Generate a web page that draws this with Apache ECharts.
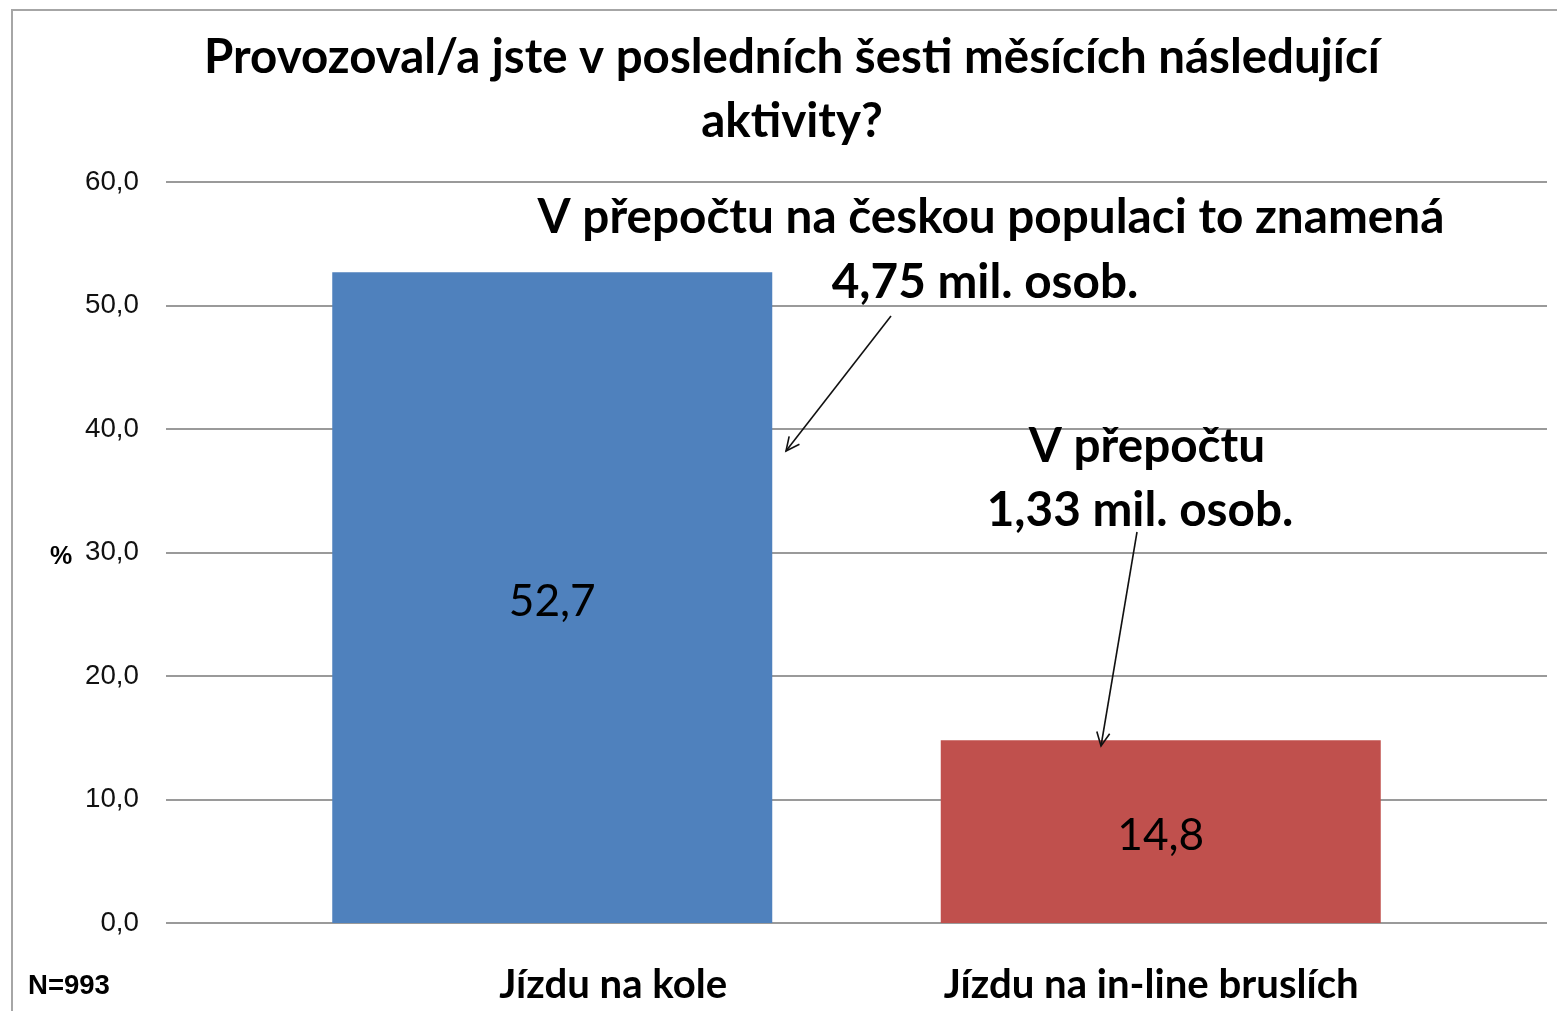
<!DOCTYPE html>
<html>
<head>
<meta charset="utf-8">
<script src="https://cdn.jsdelivr.net/npm/echarts@6/dist/echarts.min.js"></script>
<style>
html,body{margin:0;padding:0;background:#fff;}
#chart{width:1557px;height:1011px;}
</style>
</head>
<body>
<div id="chart"></div>
<script>
// ---- data ----
const categories = ['Jízdu na kole', 'Jízdu na in-line bruslích'];
const values = [52.7, 14.8];
const barColors = ['#4F81BD', '#C0504D'];
const yMin = 0, yMax = 60, yInterval = 10;
const titleLines = ['Provozoval/a jste v posledních šesti měsících následující', 'aktivity?'];
const note1Lines = ['V přepočtu na českou populaci to znamená', '4,75 mil. osob.'];
const note2Lines = ['V přepočtu', '1,33 mil. osob.'];
const sampleNote = 'N=993';
const yAxisName = '%';

// ---- helpers ----
const cv = document.createElement('canvas').getContext('2d');
function fit(text, weight, family, target) {
  cv.font = weight + ' 100px ' + family;
  return 100 * target / cv.measureText(text).width;
}
const fmt = v => v.toFixed(1).replace('.', ',');

const CAL = 'Lato';
const ARI = '"Liberation Sans"';
const titleSize = fit(titleLines[0], 'bold', CAL, 1176);
const noteSize = fit(note1Lines[0], 'bold', CAL, 907);
const catSize = fit(categories[1], 'bold', CAL, 415);
const ySize = fit('60,0', 'normal', ARI, 54);
const valSize = fit('52,7', 'normal', CAL, 87);
const nSize = fit(sampleNote, 'bold', ARI, 82);
const pctSize = 25;

function arrow(x1, y1, x2, y2) {
  const dx = x1 - x2, dy = y1 - y2, L = Math.hypot(dx, dy);
  const ux = dx / L, uy = dy / L, h = 15, a = Math.PI / 7;
  const rot = (t) => [x2 + h * (ux * Math.cos(t) - uy * Math.sin(t)), y2 + h * (ux * Math.sin(t) + uy * Math.cos(t))];
  return [
    {type: 'line', shape: {x1, y1, x2, y2}, style: {stroke: '#111', lineWidth: 1.6}, z: 50},
    {type: 'polyline', shape: {points: [rot(a), [x2, y2], rot(-a)]}, style: {stroke: '#111', lineWidth: 1.6, fill: null}, z: 50}
  ];
}

function txt(text, x, y, size, weight, family, align) {
  return {type: 'text', x, y, z: 40, style: {text, fontSize: size, fontWeight: weight, fontFamily: family, fill: '#000', align: align || 'center', verticalAlign: 'middle'}};
}

const chart = echarts.init(document.getElementById('chart'), null, {renderer: 'canvas'});
chart.setOption({
  backgroundColor: '#fff',
  animation: false,
  title: {
    text: titleLines.join('\n'),
    left: 792, top: 26, textAlign: 'center', padding: 0,
    textStyle: {fontFamily: CAL, fontWeight: 'bold', fontSize: titleSize, lineHeight: 64, color: '#000'}
  },
  grid: [
    {left: 166, right: 10, top: 182, bottom: 88},
    {left: 248, right: 92, top: 182, bottom: 88}
  ],
  xAxis: [
    {gridIndex: 0, type: 'category', data: categories, show: false},
    {gridIndex: 1, type: 'category', data: categories,
     axisLine: {show: false}, axisTick: {show: false},
     axisLabel: {
       margin: 62, verticalAlign: 'middle',
       formatter: (v, i) => (i === 0 ? '{a|' : '{b|') + v + '}',
       rich: {
         a: {fontFamily: CAL, fontWeight: 'bold', fontSize: catSize, color: '#000', padding: [0, 0, 0, 122]},
         b: {fontFamily: CAL, fontWeight: 'bold', fontSize: catSize, color: '#000', padding: [0, 19, 0, 0]}
       }
     }}
  ],
  yAxis: [
    {gridIndex: 0, type: 'value', min: yMin, max: yMax, interval: yInterval,
     axisLine: {show: false}, axisTick: {show: false},
     axisLabel: {margin: 27, formatter: fmt, fontFamily: ARI, fontSize: ySize, color: '#111'},
     splitLine: {show: true, lineStyle: {color: '#9a9a9a', width: 2}}},
    {gridIndex: 1, type: 'value', min: yMin, max: yMax, interval: yInterval, show: false,
     splitLine: {show: false}}
  ],
  series: [{
    type: 'bar', xAxisIndex: 1, yAxisIndex: 1,
    barWidth: 440,
    data: values.map((v, i) => ({value: v, itemStyle: {color: barColors[i]}})),
    label: {show: true, position: 'inside', offset: [0, 4], formatter: p => fmt(p.value),
            fontFamily: CAL, fontSize: valSize, color: '#000'}
  }],
  graphic: [
    {type: 'rect', shape: {x: 12, y: 10, width: 1700, height: 1200}, style: {fill: null, stroke: '#a6a6a6', lineWidth: 2}, z: 60, silent: true},
    txt(note1Lines[0], 991, 218, noteSize, 'bold', CAL),
    txt(note1Lines[1], 985, 283, noteSize, 'bold', CAL),
    txt(note2Lines[0], 1147, 447, noteSize, 'bold', CAL),
    txt(note2Lines[1], 1140, 511, noteSize, 'bold', CAL),
    txt(yAxisName, 61, 557, pctSize, 'bold', ARI),
    txt(sampleNote, 28, 986, nSize, 'bold', ARI, 'left'),
    ...arrow(891, 316, 786, 451),
    ...arrow(1137, 532, 1101, 746)
  ]
});
</script>
</body>
</html>
